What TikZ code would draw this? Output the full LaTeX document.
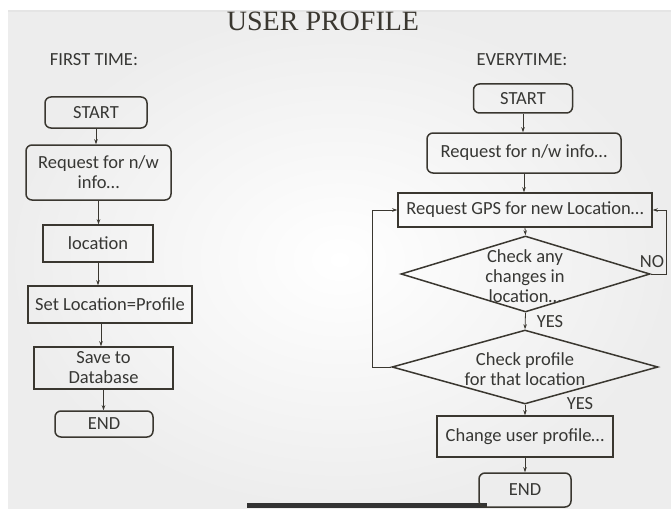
\documentclass[tikz,border=0pt]{standalone}
\usepackage{fontspec}
\setmainfont{Carlito}
\newfontfamily\titlefont{Liberation Serif}
\usetikzlibrary{shapes.geometric,arrows.meta}
\definecolor{linecol}{RGB}{58,55,48}
\definecolor{textcol}{RGB}{55,55,52}

\begin{document}
\begin{tikzpicture}[x=1pt,y=-1pt,
  every node/.style={text=textcol,font=\fontsize{18.5}{20}\selectfont,align=center,inner sep=0pt},
  rbox/.style={draw=linecol,line width=1.5pt,rounded corners=6pt},
  sbox/.style={draw=linecol,line width=1.5pt},
  dbox/.style={draw=linecol,line width=1.5pt,diamond,inner sep=0pt},
  conn/.style={draw=linecol,line width=0.8pt,-{Stealth[length=5pt,width=3.5pt]}},
  loopline/.style={draw=linecol,line width=0.8pt,-{Stealth[length=5pt,width=3.5pt]}}]
\useasboundingbox (0,0) rectangle (671,508);

% Background
\fill[white] (0,0) rectangle (671,508);
\shade[inner color=white,outer color=black!7] (8,11) rectangle (671,508);
\draw[black!10,line width=1.5pt] (8,11) -- (671,11);
\fill[black!80] (247,503) rectangle (487,508);

% Title
\node[font=\titlefont\fontsize{28}{30}\selectfont,text=linecol] (title) at (323,21) {USER PROFILE};

% Text Node
\node (first) at (94,60) {FIRST TIME:};
% Text Node
\node (every) at (522,60) {EVERYTIME:};

% First time column
\node[rbox,minimum width=102pt,minimum height=31pt] (st1) at (96,112.5) {START};
\node[rbox,minimum width=145pt,minimum height=55pt] (req1) at (98.5,172.5) {Request for n/w\\info…};
\node[sbox,minimum width=110pt,minimum height=37pt] (loc1) at (98,243.5) {location};
\node[sbox,minimum width=164pt,minimum height=37pt] (set1) at (110,304.5) {Set Location=Profile};
\node[sbox,minimum width=139pt,minimum height=42pt] (save1) at (103.5,368) {Save to\\Database};
\node[rbox,minimum width=98pt,minimum height=26pt] (end1) at (104,424) {END};

% Connection
\draw[conn] (st1.south) -- (st1.south |- req1.north);
% Connection
\draw[conn] (req1.south) -- (req1.south |- loc1.north);
% Connection
\draw[conn] (loc1.south) -- (loc1.south |- set1.north);
% Connection
\draw[conn] (set1.south -| 101,0) -- (save1.north -| 101,0);
% Connection
\draw[conn] (save1.south) -- (save1.south |- end1.north);

% Everytime column
\node[rbox,minimum width=99pt,minimum height=29pt] (st2) at (523,98.5) {START};
\node[rbox,minimum width=194pt,minimum height=40pt] (req2) at (524,153) {Request for n/w info…};
\node[sbox,minimum width=254pt,minimum height=34pt] (gps) at (525,210) {Request GPS for new Location…};
\node[dbox,minimum width=249pt,minimum height=76pt] (chk1) at (525.5,274) {};
\node (chk1t) at (525,276) {Check any\\changes in\\location…};
\node[dbox,minimum width=266pt,minimum height=74pt] (chk2) at (525,367) {};
\node (chk2t) at (525,369) {Check profile\\for that location};
\node[sbox,minimum width=176pt,minimum height=41pt] (chg) at (525,436.5) {Change user profile…};
\node[rbox,minimum width=92pt,minimum height=34pt] (end2) at (525,490) {END};

% Text Node
\node (no) at (652,262) {NO};
% Text Node
\node (yes1) at (550,322) {YES};
% Text Node
\node (yes2) at (580,404) {YES};

% Connection
\draw[conn] (st2.south) -- (st2.south |- req2.north);
% Connection
\draw[conn] (req2.south) -- (req2.south |- gps.north);
% Connection
\draw[conn] (gps.south) -- (chk1.north);
% Connection
\draw[conn] (chk1.south) -- (chk2.north);
% Connection
\draw[conn] (chk2.south) -- (chg.north);
% Connection
\draw[conn] (chg.south) -- (end2.north);
% Connection
\draw[loopline] (chk1.east) -- ++(16,0) |- (gps.east);
% Connection
\draw[loopline] (chk2.west) -- ++(-19,0) |- (gps.west);

\end{tikzpicture}
\end{document}
